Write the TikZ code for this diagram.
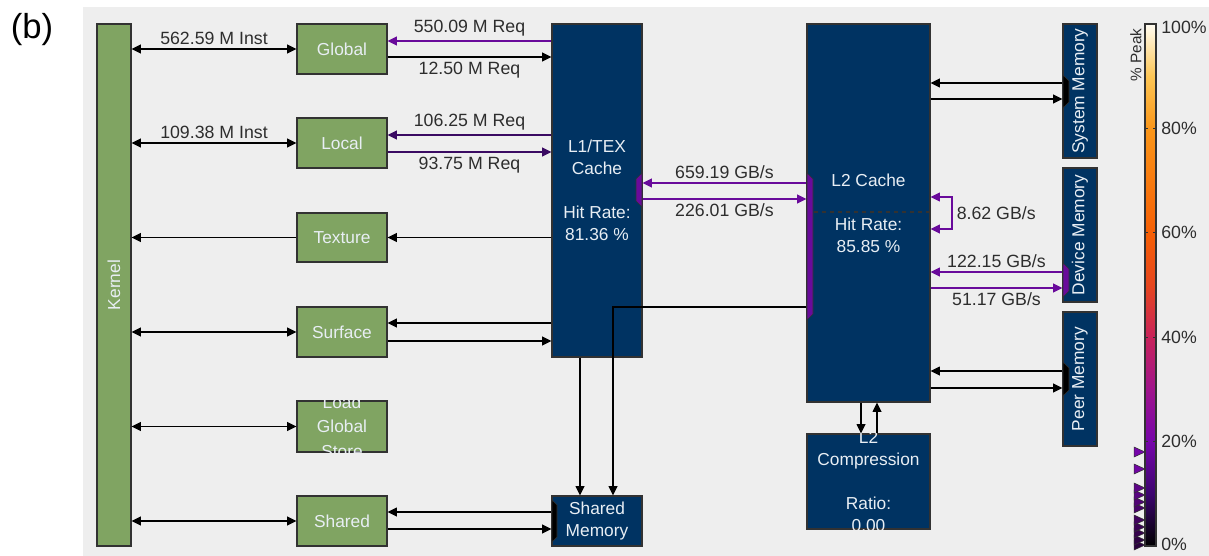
\documentclass[tikz,border=0pt]{standalone}
\usepackage{fontspec}
\setmainfont{Liberation Sans}
\usepackage{xcolor}
\definecolor{bgpanel}{RGB}{238,238,238}
\definecolor{kgreen}{RGB}{128,164,98}
\definecolor{navy}{RGB}{0,51,98}
\definecolor{boxline}{RGB}{50,50,50}
\definecolor{txtdark}{RGB}{45,45,45}
\definecolor{boxtext}{RGB}{232,238,244}
\definecolor{purA}{RGB}{105,10,155}
\definecolor{purD}{RGB}{58,10,98}
\definecolor{cbten}{RGB}{60,5,110}
\definecolor{cbtwenty}{RGB}{118,5,170}
\definecolor{cbthirty}{RGB}{160,20,140}
\definecolor{cbforty}{RGB}{200,35,90}
\definecolor{cbfifty}{RGB}{230,70,30}
\definecolor{cbsixty}{RGB}{245,95,5}
\definecolor{cbeighty}{RGB}{250,150,25}
\definecolor{cbninety}{RGB}{253,198,85}
\definecolor{cbtop}{RGB}{255,252,242}
\usepackage{tikz}
\usetikzlibrary{arrows.meta}
\pgfdeclareverticalshading{peakmap}{100bp}{color(0bp)=(black); color(25bp)=(black); color(30bp)=(cbten); color(35bp)=(cbtwenty); color(40bp)=(cbthirty); color(45bp)=(cbforty); color(50bp)=(cbfifty); color(55bp)=(cbsixty); color(65bp)=(cbeighty); color(70bp)=(cbninety); color(75bp)=(cbtop); color(100bp)=(cbtop)}

\begin{document}
\begin{tikzpicture}[x=0.75pt, y=-0.75pt,
  >={Triangle[length=7pt,width=6.5pt]},
  every node/.style={font=\fontsize{13}{16.5}\selectfont},
  greenbox/.style 2 args={draw=boxline, line width=0.8pt, fill=kgreen, text=boxtext, inner sep=0pt, minimum width=#1*0.75pt, minimum height=#2*0.75pt, align=center},
  navybox/.style 2 args={draw=boxline, line width=0.8pt, fill=navy, text=boxtext, inner sep=0pt, minimum width=#1*0.75pt, minimum height=#2*0.75pt, align=center},
  boxtxt/.style={text=boxtext, align=center, inner sep=0pt},
  lbl/.style={text=txtdark, inner sep=3pt, font=\fontsize{13.3}{16}\selectfont},
  blk/.style={line width=1.2pt, draw=black},
  pur/.style={line width=1.2pt, draw=purA},
  dpur/.style={line width=1.2pt, draw=purD},
  port/.style={fill=#1, draw=boxline, line width=0.5pt}
]
  \useasboundingbox (0,0) rectangle (1209,556);
  \fill[bgpanel] (83,7) rectangle (1209,556);
  \node[text=black, font=\fontsize{26}{30}\selectfont] (panel) at (32,30) {(b)};

  % left column
  \node[greenbox={34}{522}] (kern) at (114,285) {};
  \node[boxtxt, rotate=90] (kerntxt) at (kern) {Kernel};
  \node[greenbox={90}{50}] (glob) at (342,49) {Global};
  \node[greenbox={90}{50}] (loc) at (342,143) {Local};
  \node[greenbox={90}{49}] (tex) at (342,237.5) {Texture};
  \node[greenbox={90}{50}] (surf) at (342,332) {Surface};
  \node[greenbox={90}{51}] (lgs) at (342,426.5) {};
  \node[greenbox={90}{50}] (shr) at (342,521) {Shared};
  \begin{scope}
    \clip (lgs.south west) rectangle (lgs.north east);
    \node[boxtxt, font=\fontsize{13}{18.5}\selectfont] (lgstxt) at (lgs) {Load\\Global\\Store};
  \end{scope}

  % caches and memories
  \node[navybox={90}{333}] (l1) at (597,190.5) {L1/TEX\\Cache\\[16.5pt]Hit Rate:\\81.36 \%};
  \node[navybox={90}{50}] (shm) at (597,521) {Shared\\Memory};
  \node[navybox={123}{378}] (l2) at (868.5,213) {L2 Cache\\[16.5pt]Hit Rate:\\85.85 \%};
  \draw[dashed, boxline, line width=0.8pt] (l2.west |- 0,212) -- (l2.east |- 0,212);
  \node[navybox={123}{95}] (comp) at (868.5,481.5) {};
  \begin{scope}
    \clip (comp.south west) rectangle (comp.north east);
    \node[boxtxt] (comptxt) at (comp) {L2\\Compression\\[16.5pt]Ratio:\\0.00};
  \end{scope}
  \node[navybox={34}{134}] (sys) at (1080,91) {};
  \node[boxtxt, rotate=90] (systxt) at (sys) {System Memory};
  \node[navybox={34}{134}] (dev) at (1080,235) {};
  \node[boxtxt, rotate=90] (devtxt) at (dev) {Device Memory};
  \node[navybox={34}{134}] (peer) at (1080,379) {};
  \node[boxtxt, rotate=90] (peertxt) at (peer) {Peer Memory};

  % ports
  \draw[port=purA] (642,173) -- (636,179) -- (636,201) -- (642,207) -- cycle;
  \draw[port=purA] (807,173) -- (813,179) -- (813,314) -- (807,320) -- cycle;
  \draw[port=black] (1063,75) -- (1069,81) -- (1069,102) -- (1063,108) -- cycle;
  \draw[port=purA] (1063,263) -- (1069,269) -- (1069,291) -- (1063,297) -- cycle;
  \draw[port=black] (1063,362) -- (1069,368) -- (1069,390) -- (1063,396) -- cycle;
  \draw[port=black] (552,500) -- (557,505) -- (557,537) -- (552,542) -- cycle;

  % kernel links
  \draw[blk, <->] (kern.east |- glob) -- (glob.west) node[lbl, midway, above] {562.59 M Inst};
  \draw[blk, <->] (kern.east |- loc) -- (loc.west) node[lbl, midway, above] {109.38 M Inst};
  \draw[blk, ->] (tex.west) -- (kern.east |- tex);
  \draw[blk, <->] (kern.east |- surf) -- (surf.west);
  \draw[blk, <->] (kern.east |- lgs) -- (lgs.west);
  \draw[blk, <->] (kern.east |- shr) -- (shr.west);

  % L1 links
  \draw[pur, ->] (l1.west |- 0,41) -- (glob.east |- 0,41) node[lbl, midway, above] {550.09 M Req};
  \draw[blk, ->] (glob.east |- 0,57) -- (l1.west |- 0,57) node[lbl, midway, below] {12.50 M Req};
  \draw[dpur, ->] (l1.west |- 0,135) -- (loc.east |- 0,135) node[lbl, midway, above] {106.25 M Req};
  \draw[dpur, ->] (loc.east |- 0,152) -- (l1.west |- 0,152) node[lbl, midway, below] {93.75 M Req};
  \draw[blk, ->] (l1.west |- tex) -- (tex.east);
  \draw[blk, ->] (l1.west |- 0,323) -- (surf.east |- 0,323);
  \draw[blk, ->] (surf.east |- 0,341) -- (l1.west |- 0,341);
  \draw[blk, ->] (shm.west |- 0,512) -- (shr.east |- 0,512);
  \draw[blk, ->] (shr.east |- 0,529) -- (shm.west |- 0,529);
  \draw[blk, ->] (l1.south -| 580,0) -- (shm.north -| 580,0);
  \draw[blk, ->] (l2.west |- 0,307) -| (shm.north -| 613,0);

  % L2 links
  \draw[pur, ->] (l2.west |- 0,183) -- (l1.east |- 0,183) node[lbl, midway, above] {659.19 GB/s};
  \draw[pur, ->] (l1.east |- 0,199) -- (l2.west |- 0,199) node[lbl, midway, below] {226.01 GB/s};
  \draw[pur, <->] (l2.east |- 0,197) -| (952,213) node[lbl, right=0pt] {8.62 GB/s} |- (l2.east |- 0,229);
  \draw[pur, ->] (dev.west |- 0,272) -- (l2.east |- 0,272) node[lbl, midway, above] {122.15 GB/s};
  \draw[pur, ->] (l2.east |- 0,288) -- (dev.west |- 0,288) node[lbl, midway, below] {51.17 GB/s};
  \draw[blk, ->] (sys.west |- 0,83) -- (l2.east |- 0,83);
  \draw[blk, ->] (l2.east |- 0,99) -- (sys.west |- 0,99);
  \draw[blk, ->] (peer.west |- 0,371) -- (l2.east |- 0,371);
  \draw[blk, ->] (l2.east |- 0,388) -- (peer.west |- 0,388);
  \draw[blk, ->] (l2.south -| 861,0) -- (comp.north -| 861,0);
  \draw[blk, ->] (comp.north -| 877,0) -- (l2.south -| 877,0);

  % colour bar
  \shadedraw[shading=peakmap, draw=boxline, line width=0.8pt] (1145,24) rectangle (1156,546);
  \foreach \p in {20,40,60,80} {
    \draw[boxline, line width=0.6pt] (1145,{546-5.22*\p}) -- ++(3,0) (1156,{546-5.22*\p}) -- ++(-3,0);
    \node[lbl, anchor=west, inner sep=0pt, font=\fontsize{13.3}{15}\selectfont] (tick\p) at (1161,{546-5.22*\p}) {\p\%};
  }
  \node[lbl, anchor=west, inner sep=0pt, font=\fontsize{13.3}{15}\selectfont] (tick100) at (1161,27) {100\%};
  \node[lbl, anchor=west, inner sep=0pt, font=\fontsize{13.3}{15}\selectfont] (tick0) at (1161,544) {0\%};
  \node[lbl, rotate=90, inner sep=0pt, font=\fontsize{11.5}{13}\selectfont] (peaklbl) at (1136,55) {\% Peak};
  \foreach \ty/\tv in {545/0.2,540/1.1,533/2.5,527/3.6,520/5,508/7,502/8.4,495/10,488/11,469/15,452/18} {
    \pgfmathsetmacro\tc{min(100,35+\tv*4)}
    \filldraw[fill=cbtwenty!\tc!black, draw=boxline, line width=0.4pt] (1134,{\ty-5}) -- (1145,\ty) -- (1134,{\ty+5}) -- cycle;
  }
\end{tikzpicture}
\end{document}
